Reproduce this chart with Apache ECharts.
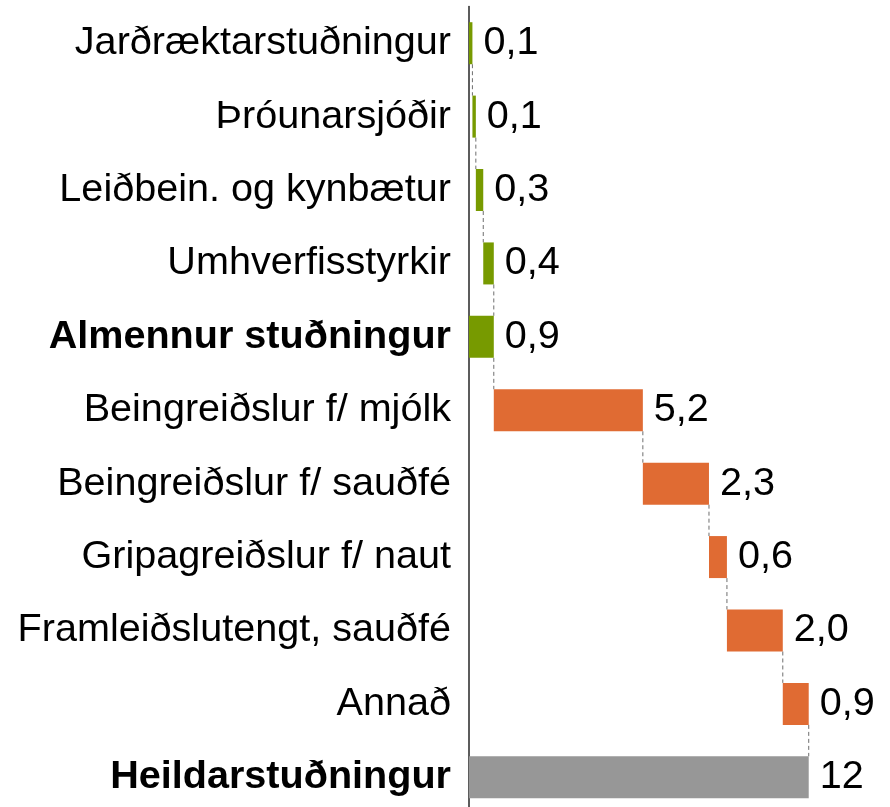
<!DOCTYPE html>
<html>
<head>
<meta charset="utf-8">
<script src="https://cdn.jsdelivr.net/npm/echarts@6/dist/echarts.min.js"></script>
<style>
  html, body { margin: 0; padding: 0; background: #fff; }
  #chart { width: 890px; height: 807px; }
</style>
</head>
<body>
<div id="chart"></div>
<script>
const categories = [
  'Jarðræktarstuðningur',
  'Þróunarsjóðir',
  'Leiðbein. og kynbætur',
  'Umhverfisstyrkir',
  'Almennur stuðningur',
  'Beingreiðslur f/ mjólk',
  'Beingreiðslur f/ sauðfé',
  'Gripagreiðslur f/ naut',
  'Framleiðslutengt, sauðfé',
  'Annað',
  'Heildarstuðningur'
];
// amounts per row (subtotal rows hold their own total)
const values = [0.12, 0.12, 0.26, 0.37, 0.87, 5.23, 2.32, 0.63, 1.96, 0.91, 11.92];
// row kind: 'g' green item, 'G' green subtotal, 'o' orange item, 'T' grand total
const kinds = ['g', 'g', 'g', 'g', 'G', 'o', 'o', 'o', 'o', 'o', 'T'];
const boldRows = ['Almennur stuðningur', 'Heildarstuðningur'];

const colors = { g: '#779a00', G: '#779a00', o: '#e06b33', T: '#979797' };
const font = 'Arial, "Liberation Sans", sans-serif';

// offsets for the floating bars
let run = 0;
const base = [];
values.forEach((v, i) => {
  if (kinds[i] === 'G' || kinds[i] === 'T') {
    base.push(0);
  } else {
    base.push(run);
    run += v;
  }
});
const ends = values.map((v, i) => base[i] + v);
const connectors = [];
for (let i = 0; i < values.length - 1; i++) connectors.push([ends[i], i, i + 1]);

const fmt = (v, i) => kinds[i] === 'T' ? String(Math.round(v)) : v.toFixed(1).replace('.', ',');

const chart = echarts.init(document.getElementById('chart'));
chart.setOption({
  animation: false,
  grid: { left: 469, width: 399, top: 6.5, height: 807.5, outerBoundsMode: 'none' },
  xAxis: {
    type: 'value', min: 0, max: 14, show: false
  },
  yAxis: {
    type: 'category',
    data: categories,
    inverse: true,
    axisTick: { show: false },
    axisLine: { lineStyle: { color: '#262626', width: 1.5 } },
    axisLabel: {
      margin: 18,
      fontFamily: font,
      fontSize: 39.6,
      color: '#000',
      formatter: v => boldRows.includes(v) ? '{b|' + v + '}' : v,
      rich: { b: { fontFamily: font, fontSize: 39.6, fontWeight: 'bold', color: '#000' } }
    }
  },
  series: [
    {
      type: 'bar', stack: 'w', barWidth: 42,
      itemStyle: { color: 'transparent' },
      data: base, silent: true
    },
    {
      type: 'bar', stack: 'w', barWidth: 42,
      data: values.map((v, i) => ({ value: v, itemStyle: { color: colors[kinds[i]] } })),
      label: {
        show: true, position: 'right', distance: 11,
        fontFamily: font, fontSize: 39.6, color: '#000',
        formatter: p => fmt(p.value, p.dataIndex)
      }
    },
    {
      type: 'custom',
      data: connectors,
      renderItem: (params, api) => {
        const half = 21;
        const a = api.coord([api.value(0), api.value(1)]);
        const b = api.coord([api.value(0), api.value(2)]);
        return {
          type: 'line',
          shape: { x1: a[0], y1: a[1] + half, x2: b[0], y2: b[1] - half },
          style: { stroke: '#6e6e6e', lineWidth: 1, lineDash: [4, 3] }
        };
      },
      z: 1
    }
  ]
});
</script>
</body>
</html>
